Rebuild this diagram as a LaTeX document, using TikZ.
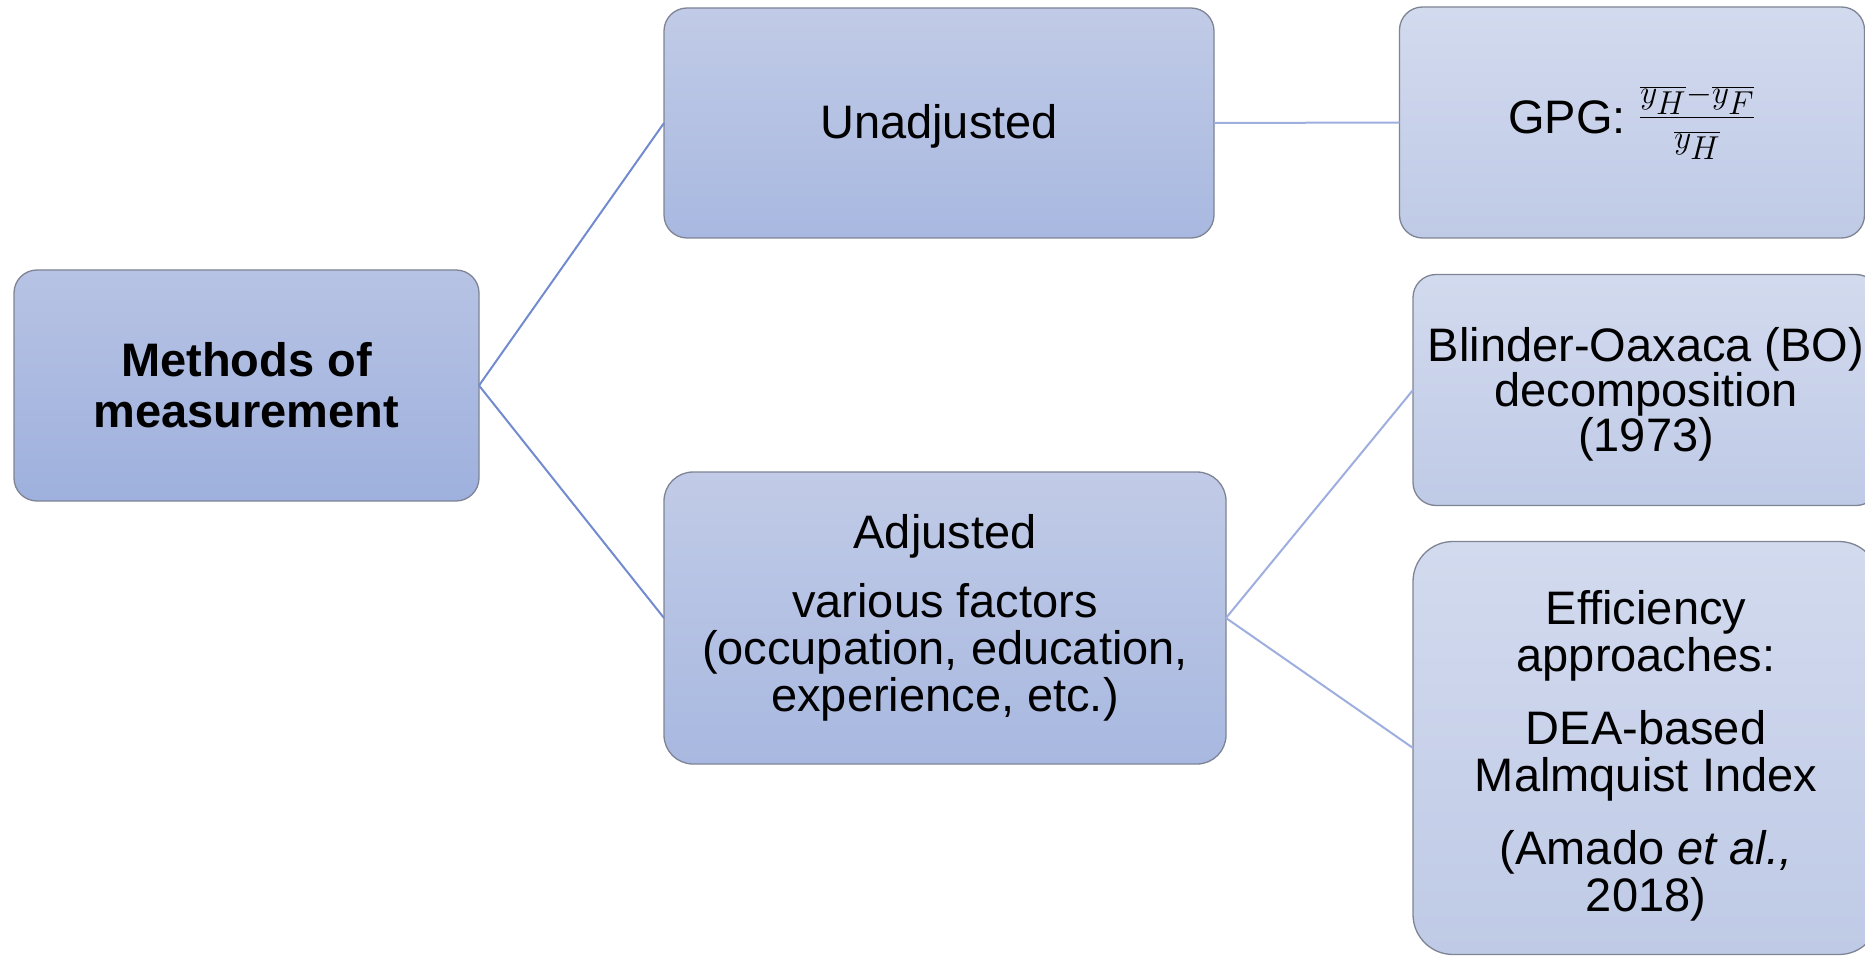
\documentclass[tikz,border=0pt]{standalone}
\usepackage{fontspec}
\usepackage{graphicx}
\setmainfont{Liberation Sans}
\definecolor{boxedge}{HTML}{7E8494}
\definecolor{lvlAtop}{HTML}{B7C3E4}
\definecolor{lvlAbot}{HTML}{9EB0DD}
\definecolor{lvlBtop}{HTML}{C1CBE7}
\definecolor{lvlBbot}{HTML}{A8B8E0}
\definecolor{lvlCtop}{HTML}{D2DAEE}
\definecolor{lvlCbot}{HTML}{BFCAE6}
\definecolor{linkA}{HTML}{728BD0}
\definecolor{linkB}{HTML}{9DAEDF}
\tikzset{
  basebox/.style={draw=boxedge, line width=1.3pt, inner sep=0pt, outer sep=0pt,
    align=center, font=\fontsize{47}{47}\selectfont, anchor=center},
  rootbox/.style={basebox, top color=lvlAtop, bottom color=lvlAbot},
  midbox/.style={basebox, top color=lvlBtop, bottom color=lvlBbot},
  leafbox/.style={basebox, top color=lvlCtop, bottom color=lvlCbot},
  boxtext/.style={inner sep=0pt, align=center, font=\fontsize{47}{47}\selectfont, anchor=center},
  linkone/.style={draw=linkA, line width=2pt},
  linktwo/.style={draw=linkB, line width=2pt},
}
\begin{document}
\begin{tikzpicture}[x=1pt,y=-1pt]
\useasboundingbox (0,0) rectangle (1865,957);
\clip (0,0) rectangle (1865,957);
% boxes
\node[rootbox, rounded corners=23pt, minimum width=465pt, minimum height=231pt,
  font=\fontsize{47}{51}\selectfont\bfseries] (meth) at (246.5,385.5) {Methods of\\measurement};
\node[midbox, rounded corners=23pt, minimum width=550pt, minimum height=230pt] (unadj) at (939,123) {};
\node[boxtext] (unadjText) at (939,126) {Unadjusted};
\node[midbox, rounded corners=29pt, minimum width=562pt, minimum height=292pt] (adj) at (945,618)
  {Adjusted\\[22pt]various factors\\(occupation, education,\\experience, etc.)};
\node[leafbox, rounded corners=23pt, minimum width=465pt, minimum height=231pt] (gpg) at (1632,122.5) {};
\node[boxtext, anchor=base] (gpgText) at (1632,134)
  {GPG: \raisebox{8pt}{\resizebox{117pt}{!}{$\displaystyle\frac{\overline{y_H}{-}\overline{y_F}}{\overline{y_H}}$}}};
\node[leafbox, rounded corners=23pt, minimum width=466pt, minimum height=231pt] (bo) at (1646,390) {};
\node[boxtext, font=\fontsize{47}{45}\selectfont] (boText) at (1646,394)
  {Blinder-Oaxaca (BO)\\decomposition\\(1973)};
\node[leafbox, rounded corners=40pt, minimum width=466pt, minimum height=413pt] (eff) at (1646,748) {};
\node[boxtext] (effText) at (1646,756)
  {Efficiency\\approaches:\\[26pt]DEA-based\\Malmquist Index\\[26pt](Amado \textit{et al.,}\\2018)};
\draw[linkone] (meth.east) -- (unadj.west);
\draw[linkone] (meth.east) -- (adj.west);
\draw[linktwo] (unadj.east) -- (gpg.west);
\draw[linktwo] (adj.east) -- (bo.west);
\draw[linktwo] (adj.east) -- (eff.west);
\end{tikzpicture}
\end{document}
